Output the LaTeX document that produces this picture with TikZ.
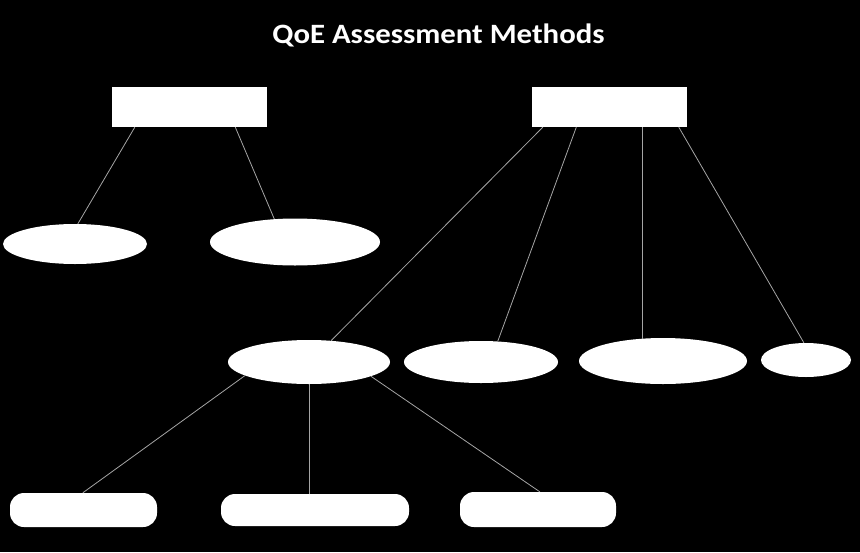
\documentclass[tikz,border=0pt]{standalone}
\usepackage{fontspec}
\setmainfont{Carlito}
\usetikzlibrary{shapes.geometric}
\tikzset{
  rectbox/.style={draw=none, fill=white, rectangle, inner sep=0pt},
  oval/.style={draw=none, fill=white, ellipse, inner sep=0pt},
  pill/.style={draw=none, fill=white, rectangle, rounded corners=14pt, inner sep=0pt},
  link/.style={draw={rgb,255:red,165;green,165;blue,165}, line width=0.8pt},
  titletext/.style={text=white, font=\bfseries\fontsize{28pt}{32pt}\selectfont}
}
\begin{document}
\begin{tikzpicture}[x=1pt,y=-1pt]
\fill[black] (0,0) rectangle (860,552);
\useasboundingbox (0,0) rectangle (860,552);
\node[titletext] (T) at (438.5,35) {\scalebox{1.1}[1]{QoE Assessment Methods}};
% top boxes
\node[rectbox, minimum width=155pt, minimum height=40pt] (R1) at (189.5,107) {};
\node[rectbox, minimum width=155pt, minimum height=40pt] (R2) at (609.5,107) {};
% first-level ellipses
\node[oval, minimum width=144pt, minimum height=40pt] (E1) at (75,244) {};
\node[oval, minimum width=170pt, minimum height=47pt] (E2) at (295,242) {};
\node[oval, minimum width=162pt, minimum height=44pt] (E3) at (309,362) {};
\node[oval, minimum width=154pt, minimum height=42pt] (E4) at (481,362) {};
\node[oval, minimum width=168pt, minimum height=46pt] (E5) at (663,361) {};
\node[oval, minimum width=90pt, minimum height=34pt] (E6) at (806,360) {};
% bottom pills
\node[pill, minimum width=147pt, minimum height=34pt] (B1) at (83.5,510) {};
\node[pill, minimum width=188pt, minimum height=32pt] (B2) at (315,510) {};
\node[pill, minimum width=156pt, minimum height=35pt] (B3) at (538,509.5) {};
% connectors
\draw[link] ([xshift=23pt]R1.south west) -- (E1.82);
\draw[link] ([xshift=123.5pt]R1.south west) -- (E2.132);
\draw[link] ([xshift=11pt]R2.south west) -- (E3.44);
\draw[link] ([xshift=44.5pt]R2.south west) -- (E4.51);
\draw[link] (E5.133 |- R2.south) -- (E5.133);
\draw[link] ([xshift=147pt]R2.south west) -- (E6.97);
\draw[link] (E3.192) -- ([xshift=73pt]B1.north west);
\draw[link] (E3.south) -- (E3.south |- B2.north);
\draw[link] (E3.347) -- ([xshift=80pt]B3.north west);
\end{tikzpicture}
\end{document}
